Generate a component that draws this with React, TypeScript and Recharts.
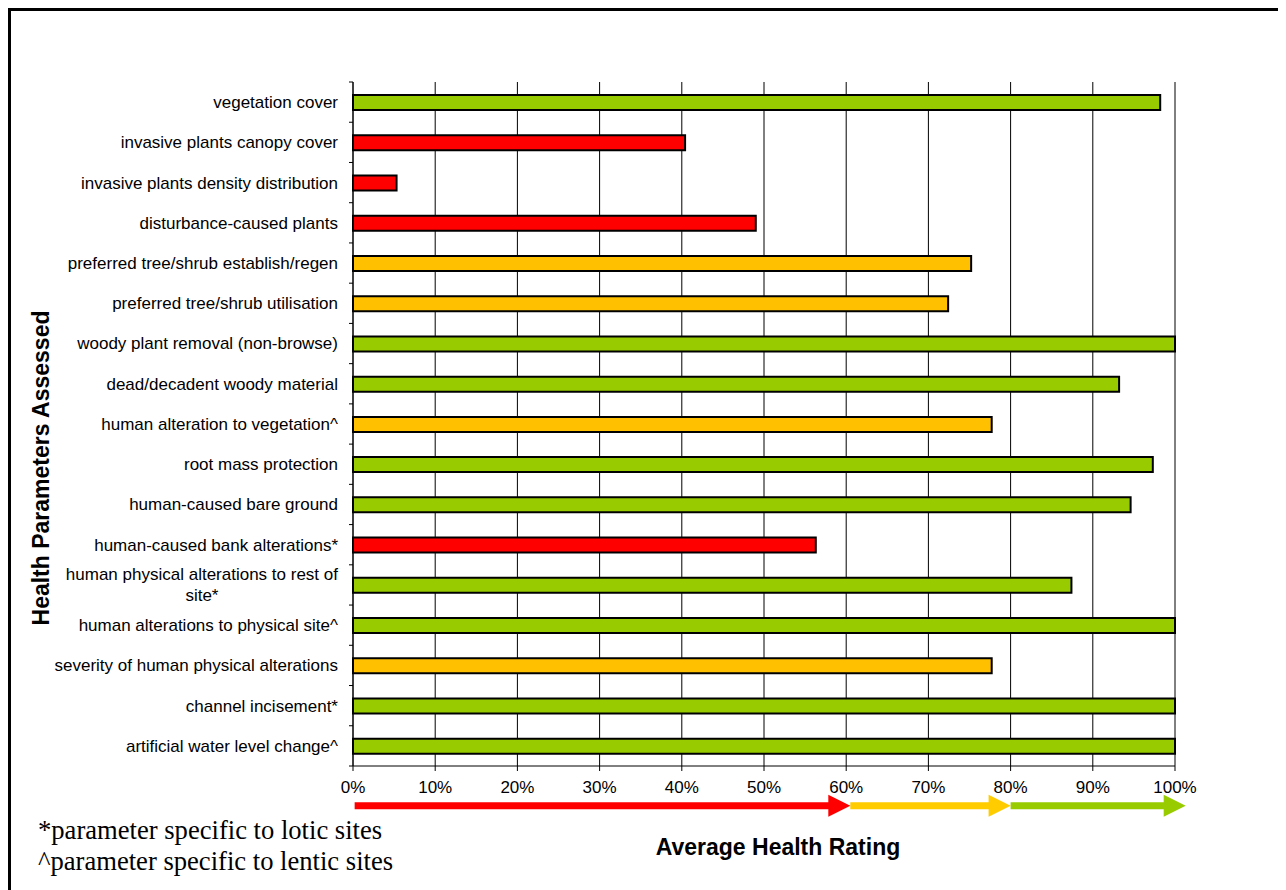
import React from 'react';
import { BarChart, Bar, XAxis, YAxis, CartesianGrid, Cell } from 'recharts';

// parameters, top to bottom as they appear on the chart
const parameters = [
  'vegetation cover',
  'invasive plants canopy cover',
  'invasive plants density distribution',
  'disturbance-caused plants',
  'preferred tree/shrub establish/regen',
  'preferred tree/shrub utilisation',
  'woody plant removal (non-browse)',
  'dead/decadent woody material',
  'human alteration to vegetation^',
  'root mass protection',
  'human-caused bare ground',
  'human-caused bank alterations*',
  'human physical alterations to rest of\nsite*',
  'human alterations to physical site^',
  'severity of human physical alterations',
  'channel incisement*',
  'artificial water level change^',
];

const ratings = [
  0.982, 0.404, 0.053, 0.49, 0.752, 0.724, 1.0, 0.932, 0.777, 0.973, 0.946, 0.563, 0.874, 1.0,
  0.777, 1.0, 1.0,
];

const xTicks = [0, 0.1, 0.2, 0.3, 0.4, 0.5, 0.6, 0.7, 0.8, 0.9, 1.0];

// rating scale arrows under the x axis (start, end in axis units)
const bandStarts = [0.002, 0.605, 0.8];
const bandEnds = [0.605, 0.8, 1.013];
const bandColors = ['#FF0000', '#FFCC00', '#99CC00'];

const footnotes = ['*parameter specific to lotic sites', '^parameter specific to lentic sites'];

const RED = '#FF0000';
const ORANGE = '#FFC000';
const GREEN = '#99CC00';

const W = 1270;
const H = 882;
const MARGIN = { top: 74, right: 103, left: 0, bottom: 94 };
const Y_AXIS_W = 345;
const X_AXIS_H = 30;
const PLOT_LEFT = MARGIN.left + Y_AXIS_W;
const PLOT_W = W - MARGIN.right - PLOT_LEFT;
const PLOT_H = H - MARGIN.top - MARGIN.bottom - X_AXIS_H;
const BAND = PLOT_H / parameters.length;

const FONT = '"Liberation Sans", Arial, sans-serif';
const SERIF = '"Liberation Serif", "Times New Roman", serif';

const data = parameters.map((name, i) => ({ name, rating: ratings[i] }));

const colorFor = (v: number) => (v < 0.6 ? RED : v < 0.8 ? ORANGE : GREEN);

let ctx: CanvasRenderingContext2D | null = null;
function textWidth(s: string, font: string) {
  if (!ctx) ctx = document.createElement('canvas').getContext('2d');
  if (!ctx) return s.length * 8;
  ctx.font = font;
  return ctx.measureText(s).width;
}

function ParamTick(props: any) {
  const { x, y, payload, index } = props;
  const lines = String(payload.value).split('\n');
  const half = BAND / 2;
  const isLast = index === parameters.length - 1;
  let label;
  if (lines.length === 1) {
    label = (
      <text x={x - 15} y={y} dy="0.35em" textAnchor="end" fontSize={17} fontFamily={FONT} fill="#000">
        {lines[0]}
      </text>
    );
  } else {
    const w = Math.max(...lines.map((l) => textWidth(l, `17px ${FONT}`)));
    const cx = x - 15 - w / 2;
    const lh = 21;
    const startY = y - ((lines.length - 1) * lh) / 2;
    label = (
      <text textAnchor="middle" fontSize={17} fontFamily={FONT} fill="#000">
        {lines.map((l, i) => (
          <tspan key={i} x={cx} y={startY + i * lh} dy="0.35em">
            {l}
          </tspan>
        ))}
      </text>
    );
  }
  return (
    <g>
      <line x1={x - 4} x2={x} y1={y - half} y2={y - half} stroke="#000" />
      {isLast && <line x1={x - 4} x2={x} y1={y + half} y2={y + half} stroke="#000" />}
      {label}
    </g>
  );
}

function Arrow({ from, to, color, cy }: { from: number; to: number; color: string; cy: number }) {
  const head = 22;
  const shaft = 7;
  const x0 = PLOT_LEFT + from * PLOT_W;
  const x1 = PLOT_LEFT + to * PLOT_W;
  const pts = [
    [x0, cy - shaft / 2],
    [x1 - head, cy - shaft / 2],
    [x1 - head, cy - head / 2],
    [x1, cy],
    [x1 - head, cy + head / 2],
    [x1 - head, cy + shaft / 2],
    [x0, cy + shaft / 2],
  ]
    .map((p) => p.join(','))
    .join(' ');
  return <polygon points={pts} fill={color} />;
}

export default function App() {
  const plotBottom = MARGIN.top + PLOT_H;
  return (
    <div style={{ position: 'relative', width: W, height: H }}>
      <div style={{ position: 'absolute', left: 0, top: 0 }}>
        <BarChart width={W} height={H} data={data} layout="vertical" margin={MARGIN}>
          <CartesianGrid horizontal={false} stroke="#000" />
          <XAxis
            type="number"
            domain={[0, 1]}
            ticks={xTicks}
            interval={0}
            height={X_AXIS_H}
            tickFormatter={(v: number) => `${Math.round(v * 100)}%`}
            tick={{ fontSize: 17, fontFamily: FONT, fill: '#000' }}
            tickSize={5}
            tickMargin={10}
            axisLine={{ stroke: '#000' }}
            tickLine={{ stroke: '#000' }}
          />
          <YAxis
            type="category"
            dataKey="name"
            width={Y_AXIS_W}
            interval={0}
            tickSize={0}
            tickMargin={0}
            tickLine={false}
            axisLine={{ stroke: '#000' }}
            tick={<ParamTick />}
          />
          <Bar dataKey="rating" barSize={15} stroke="#000" strokeWidth={2} isAnimationActive={false}>
            {data.map((d, i) => (
              <Cell key={i} fill={colorFor(d.rating)} />
            ))}
          </Bar>
        </BarChart>
      </div>
      <svg width={W} height={H} style={{ position: 'absolute', left: 0, top: 0, pointerEvents: 'none' }}>
        {/* outer frame: only its left and top edges fall inside the page */}
        <path d={`M 1.5 ${H} L 1.5 1.5 L ${W} 1.5`} fill="none" stroke="#000" strokeWidth={3} />
        {bandStarts.map((s, i) => (
          <Arrow key={i} from={s} to={bandEnds[i]} color={bandColors[i]} cy={plotBottom + 39.7} />
        ))}
        <text
          transform={`translate(41, 460) rotate(-90)`}
          textAnchor="middle"
          fontSize={23}
          fontWeight="bold"
          fontFamily={FONT}
          fill="#000"
        >
          Health Parameters Assessed
        </text>
        <text x={770} y={847} textAnchor="middle" fontSize={23} fontWeight="bold" fontFamily={FONT} fill="#000">
          Average Health Rating
        </text>
        {footnotes.map((f, i) => (
          <text key={i} x={30} y={831 + i * 31} fontSize={26.6} fontFamily={SERIF} fill="#000">
            {f}
          </text>
        ))}
      </svg>
    </div>
  );
}
